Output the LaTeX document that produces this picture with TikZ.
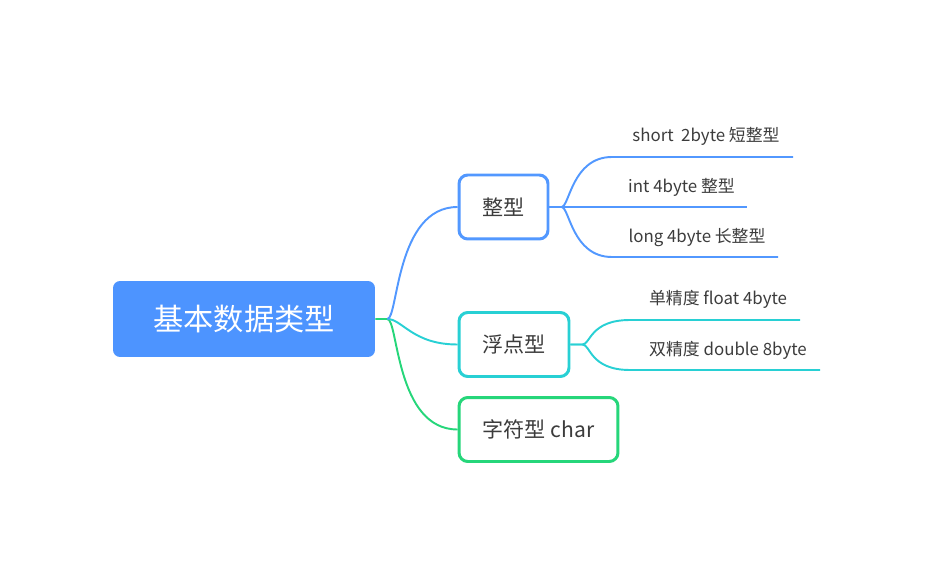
\documentclass[tikz,border=0pt]{standalone}
\usepackage{fontspec}
\setmainfont{Noto Sans CJK SC}
\usepackage{xcolor}
\definecolor{rootblue}{RGB}{77,148,255}
\definecolor{intblue}{RGB}{82,152,255}
\definecolor{fltcyan}{RGB}{40,208,212}
\definecolor{chrgreen}{RGB}{38,214,122}
\definecolor{txtgray}{RGB}{60,60,60}

\begin{document}
\begin{tikzpicture}[
    x=0.02cm, y=-0.02cm,
    rootbox/.style={rectangle, rounded corners=4pt, fill=rootblue, text=white, minimum width=5.24cm, minimum height=1.52cm, font=\fontsize{17.2}{20}\selectfont},
    kind/.style={rectangle, rounded corners=5pt, line width=1.7pt, fill=white, text=txtgray, minimum height=1.28cm, font=\fontsize{12}{14}\selectfont},
    leaf/.style={text=txtgray, inner sep=0pt, font=\fontsize{9.6}{11}\selectfont},
    bline/.style={line width=1.1pt, rounded corners=0pt}
]
\useasboundingbox (0,0) rectangle (930,564);

\node[rootbox] (root) at (244,319) {基本数据类型};
\node[kind, draw=intblue, minimum width=1.78cm]  (int) at (503.5,207) {整型};
\node[kind, draw=fltcyan, minimum width=2.2cm]   (flt) at (514,344.5) {浮点型};
\node[kind, draw=chrgreen, minimum width=3.18cm] (chr) at (538.5,429.5) {字符型 char};

\node[leaf] (short)  at (706,136) {short\ \ 2byte 短整型};
\node[leaf] (four)   at (681.5,187) {int 4byte 整型};
\node[leaf] (long)   at (697,238) {long 4byte 长整型};
\node[leaf] (single) at (718,299) {单精度 float 4byte};
\node[leaf] (double) at (728,350) {双精度 double 8byte};

\coordinate (short-a) at (612,157);  \coordinate (short-b) at (793,157);
\coordinate (four-b) at (747,207);
\coordinate (long-a) at (612,257);   \coordinate (long-b) at (778,257);
\coordinate (single-a) at (630,320); \coordinate (single-b) at (800,320);
\coordinate (double-a) at (630,370); \coordinate (double-b) at (820,370);

\draw[bline, chrgreen] (root.east) -- ++(12,0) .. controls +(11,0) and +(-62,0) .. (chr.west);
\draw[bline, fltcyan] (root.east) ++(12,0) .. controls +(15,0) and +(-45,0) .. (flt.west);
\draw[bline, intblue] (root.east) ++(12,0) .. controls +(11,0) and +(-62,0) .. (int.west);

\draw[bline, intblue] (int.east) -- ++(12,0) .. controls +(8,0) and +(-40,0) .. (short-a) -- (short-b);
\draw[bline, intblue] (int.east) -- (four-b);
\draw[bline, intblue] (int.east) -- ++(12,0) .. controls +(8,0) and +(-40,0) .. (long-a) -- (long-b);

\draw[bline, fltcyan] (flt.east) -- ++(12,0) .. controls +(8,0) and +(-40,0) .. (single-a) -- (single-b);
\draw[bline, fltcyan] (flt.east) -- ++(12,0) .. controls +(8,0) and +(-40,0) .. (double-a) -- (double-b);
\end{tikzpicture}
\end{document}
